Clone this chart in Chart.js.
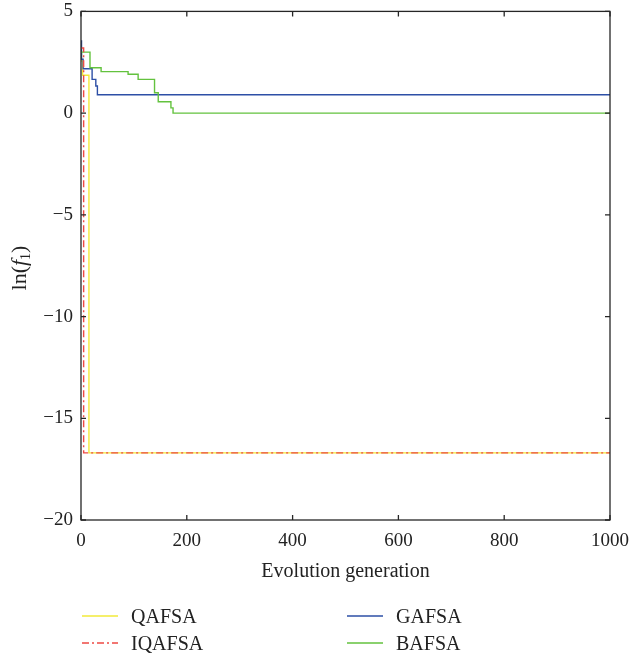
<!DOCTYPE html>
<html>
<head>
<meta charset="utf-8">
<script src="https://cdn.jsdelivr.net/npm/chart.js@4.4.1/dist/chart.umd.min.js"></script>
<style>
  html, body { margin: 0; padding: 0; background: #fff; }
  #wrap { position: relative; width: 633px; height: 659px; }
  #ytitle {
    position: absolute; left: 20px; top: 268px;
    transform: translate(-50%, -50%) rotate(-90deg);
    font-family: "Liberation Serif", "DejaVu Serif", serif;
    font-size: 22px; color: #222; white-space: nowrap;
  }
  #ytitle sub { font-size: 14px; vertical-align: -4px; font-style: normal; }
  #legend { position: absolute; left: 0; top: 0; width: 633px; height: 659px; pointer-events: none;
    font-family: "Liberation Serif", "DejaVu Serif", serif; font-size: 20px; color: #222; }
  .li { position: absolute; display: flex; align-items: center; height: 22px; }
  .li svg { margin-right: 13px; }
</style>
</head>
<body>
<div id="wrap">
  <canvas id="c"></canvas>
  <div id="ytitle">ln(<i>f</i><sub>1</sub>)</div>
  <div id="legend"></div>
</div>
<script>
// ---- data ----
const seriesNames = ["QAFSA", "IQAFSA", "GAFSA", "BAFSA"];

const qafsaGen = [0, 1, 3, 15, 1000];
const qafsaVal = [3.0, 2.56, 1.86, -16.7, -16.7];

const iqafsaGen = [0, 5, 1000];
const iqafsaVal = [3.2, -16.7, -16.7];

const gafsaGen = [0, 1, 4, 21, 28, 31, 1000];
const gafsaVal = [3.55, 2.65, 2.18, 1.66, 1.33, 0.9, 0.9];

const bafsaGen = [0, 17, 38, 89, 108, 139, 146, 170, 174, 1000];
const bafsaVal = [3.0, 2.23, 2.04, 1.91, 1.66, 1.0, 0.56, 0.26, 0.0, 0.0];

const xTicks = [0, 200, 400, 600, 800, 1000];
const yTicks = [5, 0, -5, -10, -15, -20];

const colors = { QAFSA: "#f2ea3a", IQAFSA: "#ee4a44", GAFSA: "#2d4fa6", BAFSA: "#63c23e" };
const dashes = { QAFSA: [], IQAFSA: [7, 3, 2, 3], GAFSA: [], BAFSA: [] };

const toPts = (g, v) => g.map((x, i) => ({ x: x, y: v[i] }));

const FONT = "'Liberation Serif', 'DejaVu Serif', serif";

const boxPlugin = {
  id: 'box',
  afterDraw(chart) {
    const { ctx, chartArea: a, scales } = chart;
    ctx.save();
    ctx.strokeStyle = '#262626';
    ctx.lineWidth = 1.3;
    ctx.strokeRect(a.left, a.top, a.right - a.left, a.bottom - a.top);
    const L = 5;
    ctx.beginPath();
    xTicks.forEach(v => {
      const px = scales.x.getPixelForValue(v);
      ctx.moveTo(px, a.bottom); ctx.lineTo(px, a.bottom - L);
      ctx.moveTo(px, a.top); ctx.lineTo(px, a.top + L);
    });
    yTicks.forEach(v => {
      const py = scales.y.getPixelForValue(v);
      ctx.moveTo(a.left, py); ctx.lineTo(a.left + L, py);
      ctx.moveTo(a.right, py); ctx.lineTo(a.right - L, py);
    });
    ctx.stroke();
    ctx.restore();
  }
};

const mk = (name, g, v, order) => ({
  label: name,
  data: toPts(g, v),
  borderColor: colors[name],
  backgroundColor: colors[name],
  borderWidth: 1.4,
  borderDash: dashes[name],
  stepped: 'before',
  pointRadius: 0,
  fill: false,
  order: order
});

const chart = new Chart(document.getElementById('c'), {
  type: 'line',
  data: {
    datasets: [
      mk("QAFSA", qafsaGen, qafsaVal, 3),
      mk("IQAFSA", iqafsaGen, iqafsaVal, 0),
      mk("GAFSA", gafsaGen, gafsaVal, 2),
      mk("BAFSA", bafsaGen, bafsaVal, 1)
    ]
  },
  options: {
    responsive: true,
    maintainAspectRatio: false,
    animation: false,
    layout: { padding: { left: 0, right: 23, top: 0, bottom: 75 } },
    plugins: { legend: { display: false }, tooltip: { enabled: false } },
    scales: {
      x: {
        type: 'linear', min: 0, max: 1000,
        afterBuildTicks: s => { s.ticks = xTicks.map(v => ({ value: v })); },
        afterFit: s => { s.height = 64; },
        grid: { display: false },
        border: { display: false },
        ticks: { color: '#222', font: { family: FONT, size: 19 }, padding: 2, maxRotation: 0,
                 callback: v => String(v) },
        title: { display: true, text: 'Evolution generation', color: '#222',
                 font: { family: FONT, size: 20 }, padding: { top: 4, bottom: 0 } }
      },
      y: {
        type: 'linear', min: -20, max: 5,
        afterBuildTicks: s => { s.ticks = yTicks.map(v => ({ value: v })); },
        afterFit: s => { s.width = 81; },
        grid: { display: false },
        border: { display: false },
        ticks: { color: '#222', font: { family: FONT, size: 19 }, padding: 0,
                 callback: v => String(v).replace('-', '\u2212') }
      }
    }
  },
  plugins: [boxPlugin]
});

// HTML legend built from the chart's datasets
const legendPos = [
  { left: 82, top: 616 }, { left: 82, top: 643 },
  { left: 347, top: 616 }, { left: 347, top: 643 }
];
const leg = document.getElementById('legend');
chart.data.datasets.forEach((ds, i) => {
  const p = legendPos[i];
  const d = document.createElement('div');
  d.className = 'li';
  d.style.left = p.left + 'px';
  d.style.top = (p.top - 11) + 'px';
  const dash = (ds.borderDash && ds.borderDash.length) ? `stroke-dasharray="${ds.borderDash.join(' ')}"` : '';
  d.innerHTML = `<svg width="36" height="6"><line x1="0" y1="3" x2="36" y2="3" stroke="${ds.borderColor}" stroke-width="1.5" ${dash}/></svg><span>${ds.label}</span>`;
  leg.appendChild(d);
});
</script>
</body>
</html>
